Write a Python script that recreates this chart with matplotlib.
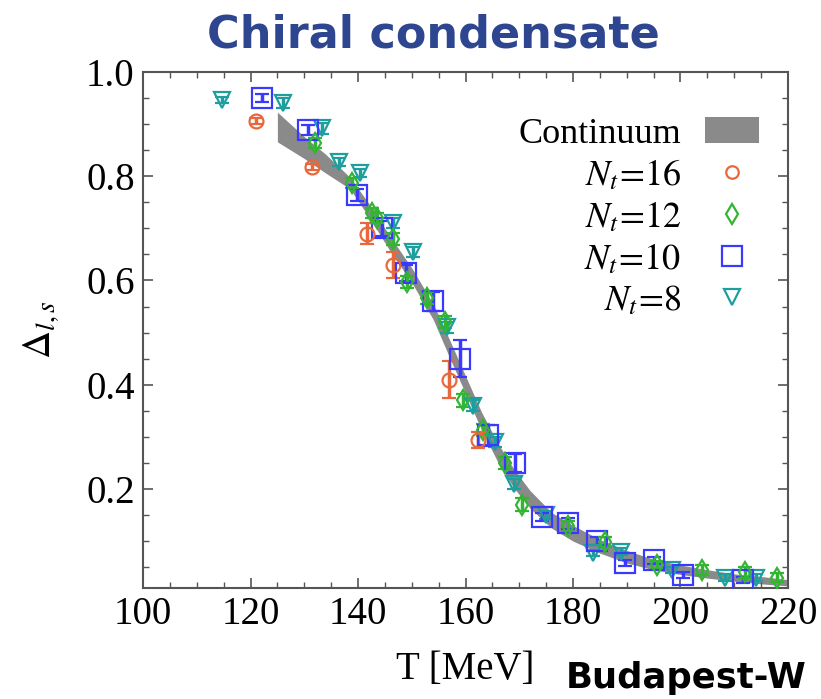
import matplotlib
matplotlib.use("Agg")
import matplotlib.pyplot as plt
from matplotlib.patches import Patch
from matplotlib.lines import Line2D
from matplotlib.ticker import MultipleLocator

plt.rcParams['font.family'] = ['Liberation Serif', 'DejaVu Serif']
plt.rcParams['mathtext.fontset'] = 'stix'

# continuum band
band_T = [125, 130, 134, 138.5, 142, 146, 150, 154, 157, 160, 163, 166, 169, 172, 176, 180, 185, 190, 195, 200, 205, 210, 215, 220]
band_lo = [0.866, 0.834, 0.806, 0.776, 0.722, 0.656, 0.596, 0.525, 0.453, 0.383, 0.313, 0.252, 0.202, 0.163, 0.125, 0.100, 0.077, 0.058, 0.045, 0.036, 0.029, 0.023, 0.018, 0.014]
band_hi = [0.923, 0.876, 0.842, 0.798, 0.748, 0.684, 0.624, 0.555, 0.487, 0.417, 0.347, 0.288, 0.238, 0.197, 0.155, 0.130, 0.103, 0.082, 0.065, 0.054, 0.045, 0.037, 0.032, 0.026]

# N_t = 16
T16 = [121, 131.4, 141.7, 146.5, 157, 162.3]
D16 = [0.906, 0.818, 0.69, 0.63, 0.41, 0.294]
E16 = [0.006, 0.006, 0.02, 0.025, 0.035, 0.015]

# N_t = 12
T12 = [132, 138.9, 142.6, 143.5, 146.5, 149.1, 152.8, 156.2, 159.5, 163.3, 167.3, 170.5, 179, 186, 195.6, 204, 212, 218]
D12 = [0.864, 0.787, 0.73, 0.72, 0.68, 0.597, 0.566, 0.52, 0.37, 0.313, 0.25, 0.17, 0.128, 0.098, 0.054, 0.044, 0.04, 0.03]
E12 = [0.01, 0.01, 0.01, 0.01, 0.012, 0.012, 0.012, 0.012, 0.012, 0.012, 0.012, 0.012, 0.01, 0.01, 0.008, 0.01, 0.01, 0.008]

# N_t = 10
T10 = [122.1, 130.7, 139.8, 144.5, 149, 154, 159, 164.2, 169.2, 174.3, 179, 184.5, 189.7, 195, 200.5, 211.6]
D10 = [0.95, 0.889, 0.764, 0.70, 0.614, 0.56, 0.45, 0.303, 0.25, 0.146, 0.134, 0.10, 0.058, 0.063, 0.035, 0.025]
E10 = [0.008, 0.01, 0.012, 0.015, 0.015, 0.018, 0.035, 0.02, 0.018, 0.008, 0.01, 0.008, 0.006, 0.006, 0.006, 0.006]

# N_t = 8
T8 = [114.7, 126, 133.3, 136.5, 140.4, 146.5, 150.2, 156.5, 161.4, 165.5, 169, 175, 183.7, 189, 198.4, 208.3, 214]
D8 = [0.946, 0.94, 0.892, 0.827, 0.806, 0.71, 0.655, 0.51, 0.36, 0.29, 0.21, 0.15, 0.077, 0.08, 0.044, 0.03, 0.03]
E8 = [0.006, 0.01, 0.01, 0.008, 0.008, 0.01, 0.01, 0.01, 0.01, 0.01, 0.01, 0.008, 0.006, 0.006, 0.006, 0.006, 0.006]

c16 = '#e8683c'
c12 = '#33b533'
c10 = '#3a3aff'
c8 = '#1f9e9e'
cband = '#8a8a8a'

fig = plt.figure(figsize=(8.21, 6.99), dpi=100)
ax = fig.add_axes([0.1742, 0.1588, 0.7856, 0.7382])

ax.fill_between(band_T, band_lo, band_hi, color=cband, lw=0, zorder=1)

series = [
    (T8, D8, E8, c8, 'v', 12),
    (T10, D10, E10, c10, 's', 14),
    (T12, D12, E12, c12, 'd', 10),
    (T16, D16, E16, c16, 'o', 10),
]
for T, D, E, col, mk, ms in series:
    ax.errorbar(T, D, yerr=E, fmt=mk, ms=ms, mfc='none', mec=col, mew=1.6,
                ecolor=col, elinewidth=2.5, capsize=5, capthick=2.5, zorder=3)

ax.set_xlim(100, 220)
ax.set_ylim(0.01, 1.0)
ax.xaxis.set_major_locator(MultipleLocator(20))
ax.xaxis.set_minor_locator(MultipleLocator(5))
ax.yaxis.set_major_locator(MultipleLocator(0.2))
ax.yaxis.set_minor_locator(MultipleLocator(0.05))
ax.set_yticks([0.2, 0.4, 0.6, 0.8, 1.0])
ax.set_yticklabels(['0.2', '0.4', '0.6', '0.8', '1.0'])
ax.tick_params(which='both', direction='in', top=True, right=True, color='#555555')
ax.tick_params(which='major', length=7, width=1.2, labelsize=28, pad=6)
ax.tick_params(which='minor', length=4, width=1.0)
for s in ax.spines.values():
    s.set_color('#555555')
    s.set_linewidth(1.5)

ax.set_xlabel('T [MeV]', fontsize=28, labelpad=13)
ax.set_ylabel(r'$\Delta_{l,s}$', fontsize=28, labelpad=18)

handles = [
    Patch(facecolor=cband, edgecolor='none', label='Continuum'),
    Line2D([], [], ls='none', marker='o', ms=9, mfc='none', mec=c16, mew=1.6, label=r'$N_t\!=\!16$'),
    Line2D([], [], ls='none', marker='d', ms=10, mfc='none', mec=c12, mew=1.6, label=r'$N_t\!=\!12$'),
    Line2D([], [], ls='none', marker='s', ms=14, mfc='none', mec=c10, mew=1.6, label=r'$N_t\!=\!10$'),
    Line2D([], [], ls='none', marker='v', ms=12, mfc='none', mec=c8, mew=1.6, label=r'$N_t\!=\!8$'),
]
leg = ax.legend(handles=handles, loc='upper right', bbox_to_anchor=(0.978, 0.94),
                frameon=False, markerfirst=False, fontsize=26, handlelength=1.5,
                handletextpad=0.65, labelspacing=0.2, borderaxespad=0)
for t in leg.get_texts():
    t.set_ha('right')
leg._legend_box.align = 'right'

fig.text(0.528, 0.95, 'Chiral condensate', family='DejaVu Sans', fontweight='bold',
         fontsize=32, color='#2e4690', ha='center', va='center')
fig.text(0.689, 0.03, 'Budapest-W', family='DejaVu Sans', fontweight='bold',
         fontsize=25.5, color='black', ha='left', va='center')

fig.savefig('out.png', dpi=100)
